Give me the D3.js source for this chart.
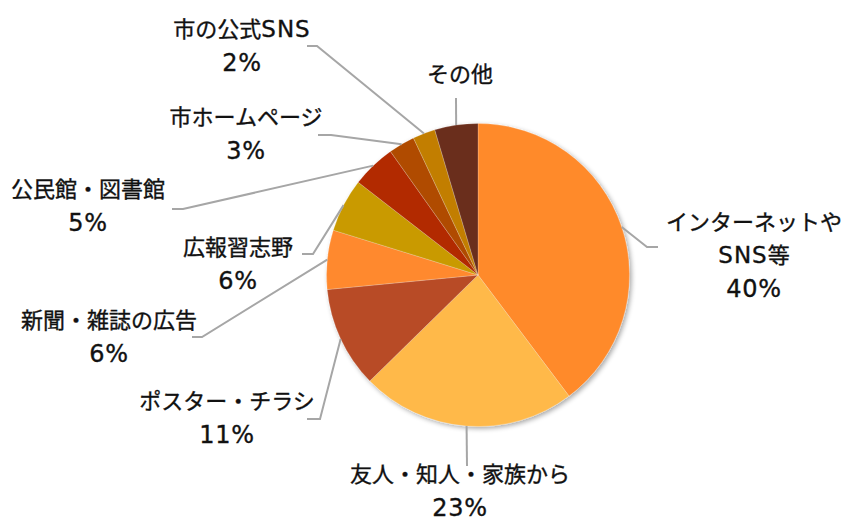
<!DOCTYPE html>
<html>
<head>
<meta charset="utf-8">
<script src="https://cdn.jsdelivr.net/npm/d3@7"></script>
<style>
  html, body { margin: 0; padding: 0; background: #fff; }
  svg { display: block; }
  text { font-family: "DejaVu Sans", "Noto Sans CJK JP", sans-serif; fill: #111; stroke: #111; stroke-width: 0.35px; }
</style>
</head>
<body>
<svg id="chart" width="842" height="521"></svg>
<script>
// Survey: where respondents learned about the event (percent)
const categories = [
  "インターネットや\nSNS等",
  "友人・知人・家族から",
  "ポスター・チラシ",
  "新聞・雑誌の広告",
  "広報習志野",
  "公民館・図書館",
  "市ホームページ",
  "市の公式SNS",
  "その他"
];
const values = [39.7, 22.9, 10.8, 6.3, 5.7, 4.7, 2.8, 2.4, 4.6];
const showPercent = [true, true, true, true, true, true, true, true, false];
const colors = ["#ff8a2b", "#ffb94a", "#b84c27", "#ff892d", "#c99a00", "#b22a00", "#b04c00", "#c27e00", "#6b2d1a"];

// Label layout: text centre and the elbow where the leader line leaves the label
const labelLayout = [
  { x: 754, y: 222, elbow: [[658, 247], [647, 247]] },
  { x: 460, y: 474, elbow: [[467, 466]] },
  { x: 227, y: 401, elbow: [[307, 419], [320, 419]] },
  { x: 109, y: 320, elbow: [[192, 337], [202, 337]] },
  { x: 238, y: 247, elbow: [[302, 254], [313, 254]] },
  { x: 88,  y: 189, elbow: [[172, 209], [183, 209]] },
  { x: 246, y: 117, elbow: [[318, 135], [331, 135]] },
  { x: 242, y: 29,  elbow: [[307, 46], [317, 46]] },
  { x: 460, y: 74,  elbow: [[456, 98]] }
];

const width = 842, height = 521;
const cx = 478, cy = 275, radius = 151.5;
const lineHeight = 33;

const svg = d3.select("#chart");

const defs = svg.append("defs");
const shadow = defs.append("filter").attr("id", "pieShadow")
  .attr("x", "-10%").attr("y", "-10%").attr("width", "125%").attr("height", "125%");
shadow.append("feGaussianBlur").attr("in", "SourceAlpha").attr("stdDeviation", 2.5).attr("result", "blur");
shadow.append("feOffset").attr("in", "blur").attr("dx", 1.5).attr("dy", 1.5).attr("result", "off");
shadow.append("feComponentTransfer").attr("in", "off").attr("result", "soft")
  .append("feFuncA").attr("type", "linear").attr("slope", 0.35);
const merge = shadow.append("feMerge");
merge.append("feMergeNode").attr("in", "soft");
merge.append("feMergeNode").attr("in", "SourceGraphic");

const data = categories.map((c, i) => ({ name: c, value: values[i], color: colors[i], pct: showPercent[i], layout: labelLayout[i] }));

const pie = d3.pie().sort(null).value(d => d.value).startAngle(0).endAngle(2 * Math.PI);
const arcs = pie(data);

const arc = d3.arc().innerRadius(0).outerRadius(radius);
const edgeArc = d3.arc().innerRadius(radius).outerRadius(radius);

const total = d3.sum(values);

// Slices
const g = svg.append("g").attr("transform", `translate(${cx},${cy})`);
g.append("g").attr("filter", "url(#pieShadow)")
  .selectAll("path")
  .data(arcs)
  .join("path")
  .attr("d", arc)
  .attr("fill", d => d.data.color)
  .attr("stroke", "rgba(255,255,255,0.35)")
  .attr("stroke-width", 0.6);

// Leader lines from label elbows to the slice edge at its mid angle
const line = d3.line();
svg.append("g")
  .selectAll("path")
  .data(arcs)
  .join("path")
  .attr("d", d => {
    const [ex, ey] = edgeArc.centroid(d);
    const pts = d.data.layout.elbow.map(p => p.slice());
    pts.push([cx + ex, cy + ey]);
    return line(pts);
  })
  .attr("fill", "none")
  .attr("stroke", "#a6a6a6")
  .attr("stroke-width", 2);

// Labels: category name lines, then the rounded share
const labels = svg.append("g")
  .selectAll("text")
  .data(arcs)
  .join("text")
  .attr("text-anchor", "middle")
  .attr("font-size", 22);

labels.each(function (d) {
  const t = d3.select(this);
  const lines = d.data.name.split("\n").map(s => ({ s, pct: false }));
  if (d.data.pct) lines.push({ s: Math.round(d.data.value / total * 100) + "%", pct: true });
  lines.forEach((l, i) => {
    const y = d.data.layout.y + i * lineHeight;
    if (l.pct) {
      t.append("tspan")
        .attr("x", d.data.layout.x)
        .attr("y", y)
        .attr("dy", "0.36em")
        .attr("font-size", 24)
        .attr("letter-spacing", 0.8)
        .text(l.s);
    } else {
      // Latin runs are set a little larger than the kana/kanji around them
      const runs = l.s.match(/[A-Za-z0-9]+|[^A-Za-z0-9]+/g);
      runs.forEach((r, j) => {
        const latin = /[A-Za-z0-9]/.test(r);
        const sp = t.append("tspan")
          .attr("font-size", latin ? 23 : 22)
          .attr("letter-spacing", latin ? 1 : 0)
          .text(r);
        if (j === 0) sp.attr("x", d.data.layout.x).attr("y", y).attr("dy", "0.36em");
      });
    }
  });
});
</script>
</body>
</html>
